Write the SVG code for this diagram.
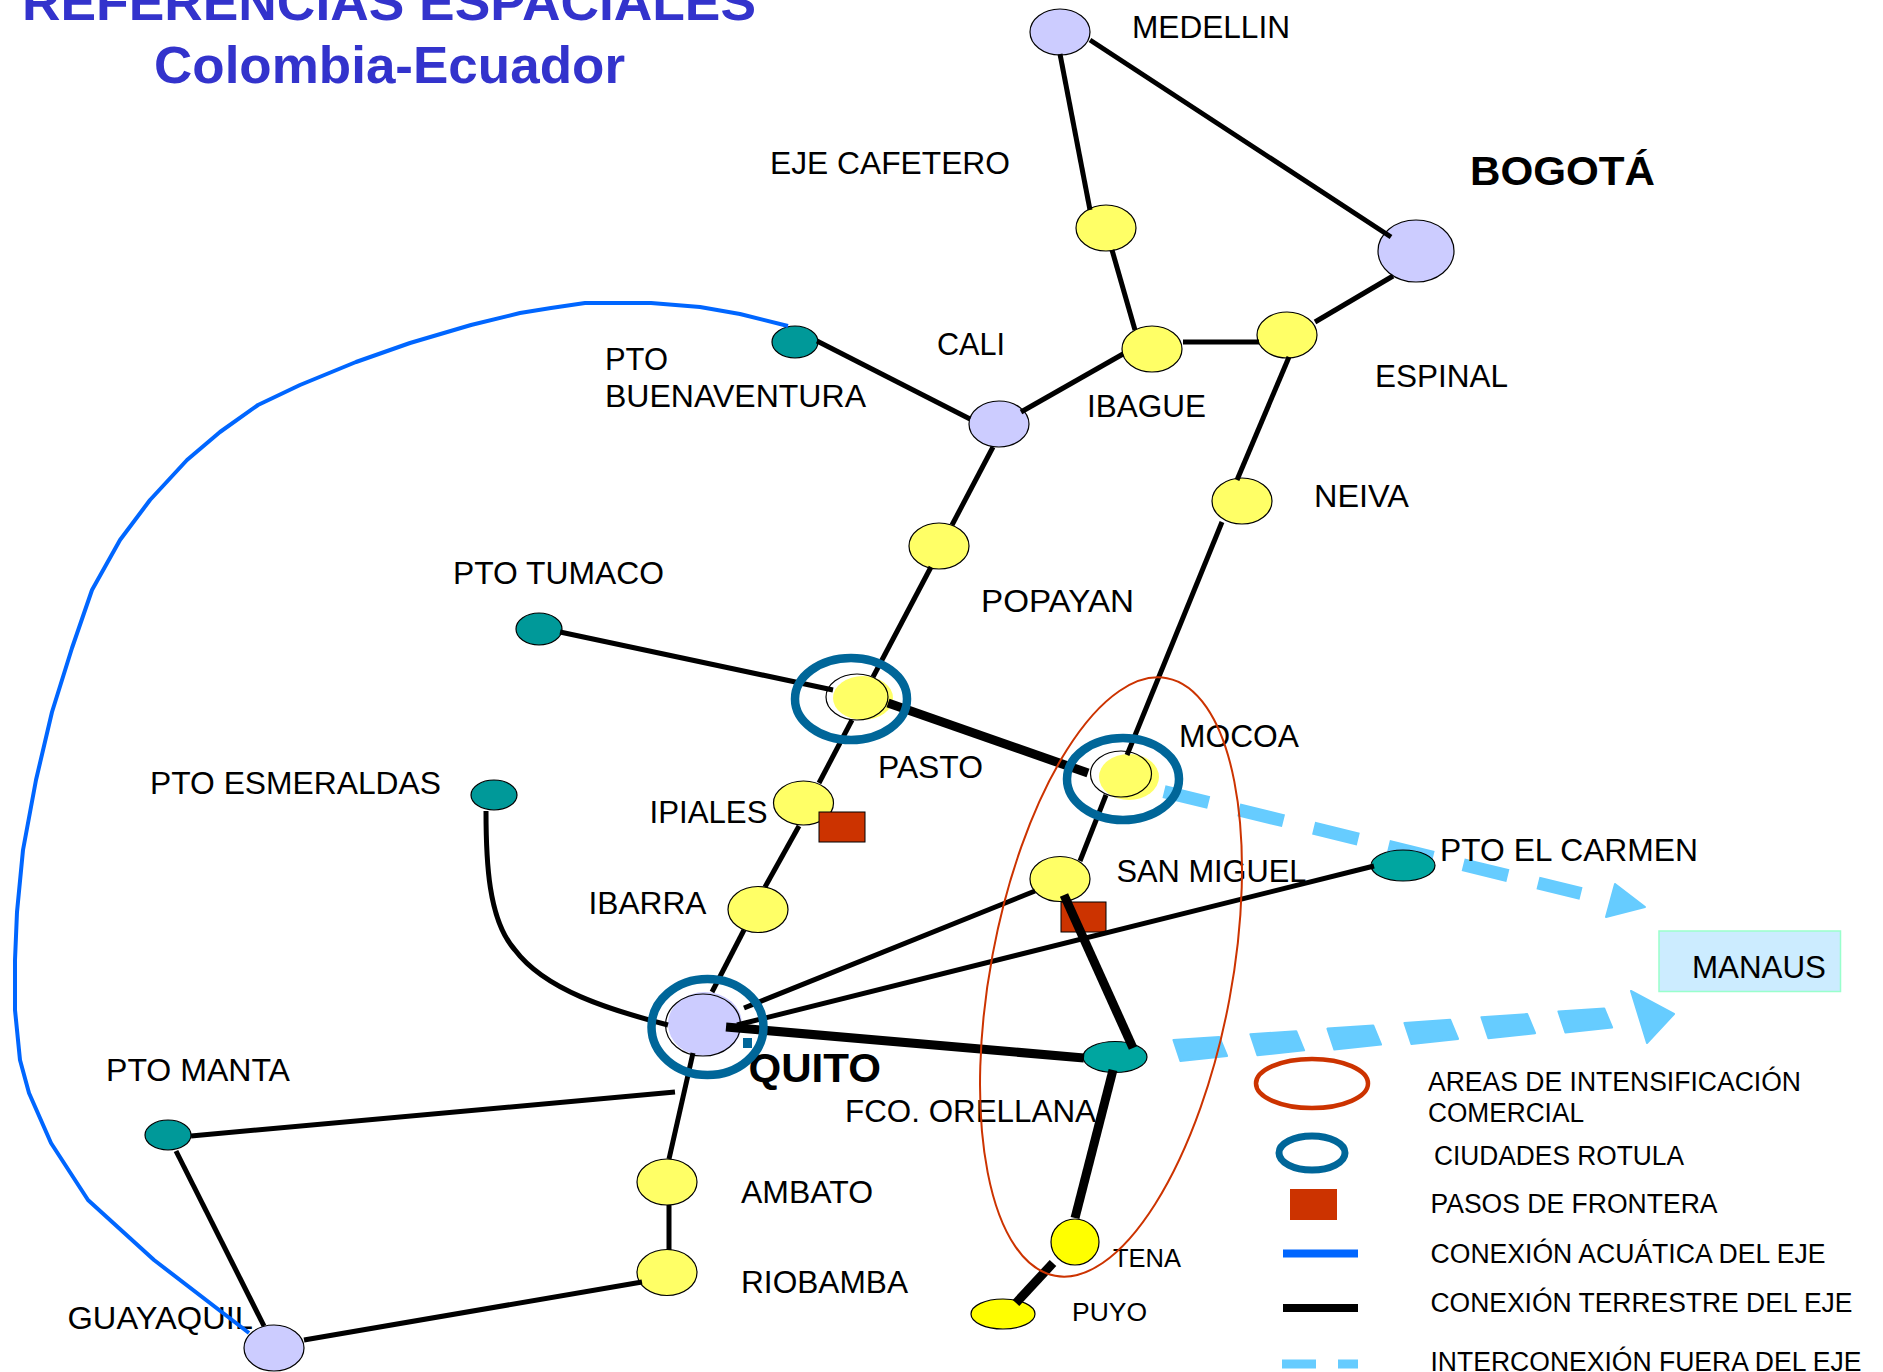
<svg xmlns="http://www.w3.org/2000/svg" width="1883" height="1372" viewBox="0 0 1883 1372">
<style>
text{font-family:"Liberation Sans",Arial,sans-serif;fill:#000;font-size:31px}
.b{font-weight:bold;font-size:41px}
.t{font-weight:bold;font-size:52px;fill:#3333cc}
.s{font-size:26px}
.l{font-size:27px}
.city{fill:#ccccff;stroke:#000;stroke-width:1.2}
.y{fill:#ffff66;stroke:#000;stroke-width:1.2}
.ynoline{fill:#ffff66}
.lnoline{fill:#ccccff}
.halo{fill:#fff;stroke:#000;stroke-width:1.2}
.yy{fill:#ffff00;stroke:#000;stroke-width:1.2}
.port{fill:#009999;stroke:#000;stroke-width:1.2}
.port2{fill:#00a6a0;stroke:#000;stroke-width:1.2}
.border{fill:#cc3300;stroke:#000;stroke-width:1}
.ring{fill:none;stroke:#006699;stroke-width:8.5}
.area{fill:none;stroke:#cc3300;stroke-width:2}
line,polyline,path.c{fill:none;stroke:#000;stroke-width:5}
.k{stroke-width:9}
.ext{fill:#66ccff;stroke:#66ccff;stroke-width:2;stroke-linejoin:round}
.extd{fill:none;stroke:#66ccff;stroke-width:13;stroke-dasharray:46 31}
</style>
<g id="title">
<text class="t" x="22" y="20" textLength="734" lengthAdjust="spacingAndGlyphs">REFERENCIAS ESPACIALES</text>
<text class="t" x="154" y="83" textLength="471" lengthAdjust="spacingAndGlyphs">Colombia-Ecuador</text>
</g>
<g id="connectors-exterior">
<path class="extd" d="M1164,791.6 L1581,893.5"/>
<polygon class="ext" points="1615,884 1645,907 1606,917"/>
<polygon class="ext" points="1173.4,1040 1219.2,1036.9 1227.1,1056 1180.4,1061"/>
<polygon class="ext" points="1250.4,1034.3 1296.2,1031.2 1304.1,1050.3 1257.4,1055.3"/>
<polygon class="ext" points="1327.4,1028.6 1373.2,1025.5 1381.1,1044.6 1334.4,1049.6"/>
<polygon class="ext" points="1404.4,1022.9 1450.2,1019.8 1458.1,1038.9 1411.4,1043.9"/>
<polygon class="ext" points="1481.4,1017.2 1527.2,1014.1 1535.1,1033.2 1488.4,1038.2"/>
<polygon class="ext" points="1558.4,1011.5 1604.2,1008.4 1612.1,1027.5 1565.4,1032.5"/>
<polygon class="ext" points="1631,991 1674,1014 1647,1043"/>
</g>
<g id="node-medellin"><ellipse class="city" cx="1060" cy="32" rx="30" ry="23"/><text x="1132" y="38" textLength="158" lengthAdjust="spacingAndGlyphs">MEDELLIN</text></g>
<g id="node-eje-cafetero"><ellipse class="y" cx="1106" cy="228" rx="30" ry="23"/><text x="770" y="174" textLength="240" lengthAdjust="spacingAndGlyphs">EJE CAFETERO</text></g>
<g id="node-bogota"><ellipse class="city" cx="1416" cy="251" rx="38" ry="31"/><text class="b" x="1470" y="185" textLength="185" lengthAdjust="spacingAndGlyphs">BOGOTÁ</text></g>
<g id="node-ibague"><ellipse class="y" cx="1152" cy="349" rx="30" ry="23"/><text x="1087" y="417" textLength="119" lengthAdjust="spacingAndGlyphs">IBAGUE</text></g>
<g id="node-espinal"><ellipse class="y" cx="1287" cy="335" rx="30" ry="23"/><text x="1375" y="387" textLength="133" lengthAdjust="spacingAndGlyphs">ESPINAL</text></g>
<g id="node-cali"><ellipse class="city" cx="999" cy="424" rx="30" ry="23"/><text x="937" y="355" textLength="68" lengthAdjust="spacingAndGlyphs">CALI</text></g>
<g id="node-buenaventura"><ellipse class="port" cx="795" cy="342" rx="23" ry="16"/><text x="605" y="370" textLength="63" lengthAdjust="spacingAndGlyphs">PTO</text><text x="605" y="407" textLength="261" lengthAdjust="spacingAndGlyphs">BUENAVENTURA</text></g>
<g id="node-popayan"><ellipse class="y" cx="939" cy="546" rx="30" ry="23"/><text x="981" y="612" textLength="153" lengthAdjust="spacingAndGlyphs">POPAYAN</text></g>
<g id="node-neiva"><ellipse class="y" cx="1242" cy="501" rx="30" ry="23"/><text x="1314" y="507" textLength="95" lengthAdjust="spacingAndGlyphs">NEIVA</text></g>
<g id="node-tumaco"><ellipse class="port" cx="539" cy="629" rx="23" ry="16"/><text x="453" y="584" textLength="211" lengthAdjust="spacingAndGlyphs">PTO TUMACO</text></g>
<g id="node-pasto"><ellipse class="ynoline" cx="863" cy="698" rx="30" ry="22"/><ellipse class="halo" style="fill:none" cx="857" cy="697" rx="31" ry="23"/><text x="878" y="778" textLength="105" lengthAdjust="spacingAndGlyphs">PASTO</text></g>
<g id="node-mocoa"><ellipse class="ynoline" cx="1129" cy="777" rx="30" ry="23"/><ellipse class="halo" style="fill:none" cx="1121" cy="774" rx="30.500" ry="23"/><text x="1179" y="747" textLength="120" lengthAdjust="spacingAndGlyphs">MOCOA</text></g>
<g id="node-ipiales"><ellipse class="y" cx="803.500" cy="803" rx="30" ry="22"/><rect class="border" x="819" y="812" width="46" height="30"/><text x="649.500" y="823" textLength="118" lengthAdjust="spacingAndGlyphs">IPIALES</text></g>
<g id="node-ibarra"><ellipse class="y" cx="758" cy="909.500" rx="30" ry="23"/><text x="588.500" y="914" textLength="118" lengthAdjust="spacingAndGlyphs">IBARRA</text></g>
<g id="node-san-miguel"><ellipse class="y" cx="1060" cy="879" rx="30" ry="22.500"/><rect class="border" x="1061" y="902" width="45" height="30"/><text x="1116.500" y="882" textLength="190" lengthAdjust="spacingAndGlyphs">SAN MIGUEL</text></g>
<g id="node-quito"><ellipse class="lnoline" cx="705" cy="1024" rx="37" ry="32"/><ellipse class="halo" style="fill:none" cx="703" cy="1025" rx="37.500" ry="31"/><rect x="743" y="1038" width="9" height="10" fill="#006699"/><text class="b" x="748.500" y="1082" textLength="132.500" lengthAdjust="spacingAndGlyphs">QUITO</text></g>
<g id="node-esmeraldas"><ellipse class="port" cx="494" cy="795" rx="23" ry="15"/><text x="150" y="794" textLength="291" lengthAdjust="spacingAndGlyphs">PTO ESMERALDAS</text></g>
<g id="node-el-carmen"><ellipse class="port2" cx="1403" cy="865.500" rx="32" ry="15.500"/><text x="1440" y="860.500" textLength="258" lengthAdjust="spacingAndGlyphs">PTO EL CARMEN</text></g>
<g id="node-orellana"><ellipse class="port2" cx="1115" cy="1057" rx="32" ry="15.500"/><text x="845" y="1122" textLength="251" lengthAdjust="spacingAndGlyphs">FCO. ORELLANA</text></g>
<g id="node-manta"><ellipse class="port" cx="168" cy="1135" rx="23" ry="15"/><text x="106" y="1081" textLength="184" lengthAdjust="spacingAndGlyphs">PTO MANTA</text></g>
<g id="node-ambato"><ellipse class="y" cx="667" cy="1182" rx="30" ry="23"/><text x="741" y="1203" textLength="132" lengthAdjust="spacingAndGlyphs">AMBATO</text></g>
<g id="node-riobamba"><ellipse class="y" cx="667" cy="1272.500" rx="30" ry="23"/><text x="741" y="1293" textLength="167" lengthAdjust="spacingAndGlyphs">RIOBAMBA</text></g>
<g id="node-guayaquil"><ellipse class="city" cx="274" cy="1348" rx="30" ry="23"/><text x="67.500" y="1329" textLength="185.500" lengthAdjust="spacingAndGlyphs">GUAYAQUIL</text></g>
<g id="node-tena"><ellipse class="yy" cx="1075" cy="1242" rx="24" ry="23"/><text class="s" x="1113" y="1267" textLength="68" lengthAdjust="spacingAndGlyphs">TENA</text></g>
<g id="node-puyo"><ellipse class="yy" cx="1003" cy="1314" rx="32" ry="15"/><text class="s" x="1072" y="1321" textLength="75" lengthAdjust="spacingAndGlyphs">PUYO</text></g>
<g id="node-manaus"><rect x="1659" y="931" width="181.500" height="60.500" fill="#ccecff" stroke="#99ffcc" stroke-width="1.500"/><text x="1692" y="978" textLength="134" lengthAdjust="spacingAndGlyphs">MANAUS</text></g>
<g id="connectors">
<line x1="1060" y1="54" x2="1090" y2="210"/>
<line x1="1090" y1="40" x2="1391" y2="237"/>
<line x1="1112" y1="250" x2="1135" y2="330"/>
<line x1="1183" y1="342" x2="1259" y2="342"/>
<line x1="1315" y1="322" x2="1393" y2="276"/>
<line x1="1021" y1="412" x2="1123" y2="354"/>
<line x1="817" y1="341" x2="970" y2="419"/>
<line x1="993" y1="447" x2="952" y2="525"/>
<line x1="931" y1="567" x2="873" y2="677"/>
<line x1="852" y1="720" x2="819" y2="783"/>
<line x1="799" y1="826" x2="765" y2="887"/>
<line x1="744" y1="930" x2="712" y2="992"/>
<line x1="560" y1="632" x2="833" y2="690"/>
<line x1="1289" y1="357" x2="1237" y2="480"/>
<line x1="1222" y1="522" x2="1127" y2="755"/>
<line x1="1106" y1="795" x2="1080" y2="861"/>
<line x1="744" y1="1008" x2="1035" y2="891"/>
<line x1="737" y1="1025" x2="1374" y2="866"/>
<line x1="693" y1="1053" x2="669" y2="1159"/>
<line x1="669" y1="1205" x2="669" y2="1250"/>
<line x1="642" y1="1282" x2="304" y2="1340"/>
<line x1="191" y1="1136" x2="675" y2="1092"/>
<line x1="176" y1="1151" x2="264" y2="1326"/>
<path class="c" d="M486,811 C486,860 488,920 515,950 C545,990 610,1010 668,1025"/>
<line class="k" x1="888" y1="703" x2="1088" y2="773"/>
<line class="k" x1="726" y1="1027" x2="1084" y2="1058"/>
<line class="k" x1="1064" y1="895" x2="1133" y2="1048"/>
<line class="k" x1="1113" y1="1070" x2="1075" y2="1218"/>
<line class="k" x1="1053" y1="1263" x2="1016" y2="1303"/>
<polyline style="stroke:#0066ff;stroke-width:4;stroke-linejoin:round" points="788,326 740,314 700,307 651,303 585,303 551,308 520,313 471,325 410,343 356,362 300,385 258,405 220,432 187,460 150,500 120,540 92,590 72,648 52,712 36,780 23,850 17,912 15,960 15,1010 20,1060 29,1093 51,1143 88,1200 154,1260 249,1333"/>
</g>
<g id="rings">
<ellipse class="ring" cx="851" cy="699" rx="56" ry="41"/>
<ellipse class="ring" cx="1123" cy="779" rx="56" ry="41"/>
<ellipse class="ring" cx="707.500" cy="1027" rx="56" ry="48"/>
</g>
<ellipse id="area-intensificacion" class="area" cx="1111" cy="977" rx="120.500" ry="304" transform="rotate(10.6 1111 977)"/>
<g id="legend">
<ellipse cx="1312" cy="1083.500" rx="56" ry="24.500" fill="none" stroke="#cc3300" stroke-width="4.500"/>
<text class="l" x="1428" y="1090.500" textLength="373" lengthAdjust="spacingAndGlyphs">AREAS DE INTENSIFICACIÓN</text>
<text class="l" x="1428" y="1122" textLength="156" lengthAdjust="spacingAndGlyphs">COMERCIAL</text>
<ellipse class="ring" cx="1312" cy="1153" rx="33" ry="17" style="stroke-width:7"/>
<text class="l" x="1434" y="1164.500" textLength="250" lengthAdjust="spacingAndGlyphs">CIUDADES ROTULA</text>
<rect x="1290" y="1189" width="47" height="31" fill="#cc3300"/>
<text class="l" x="1430.500" y="1212.500" textLength="287" lengthAdjust="spacingAndGlyphs">PASOS DE FRONTERA</text>
<rect x="1283" y="1249.500" width="75" height="8" fill="#0066ff"/>
<text class="l" x="1430.500" y="1262.500" textLength="395" lengthAdjust="spacingAndGlyphs">CONEXIÓN ACUÁTICA DEL EJE</text>
<rect x="1283" y="1304" width="75" height="8" fill="#000"/>
<text class="l" x="1430.500" y="1312" textLength="422" lengthAdjust="spacingAndGlyphs">CONEXIÓN TERRESTRE DEL EJE</text>
<rect x="1282" y="1359.500" width="34" height="9" fill="#66ccff"/>
<rect x="1338" y="1359.500" width="20" height="9" fill="#66ccff"/>
<text class="l" x="1430.500" y="1371" textLength="431" lengthAdjust="spacingAndGlyphs">INTERCONEXIÓN FUERA DEL EJE</text>
</g>
</svg>
